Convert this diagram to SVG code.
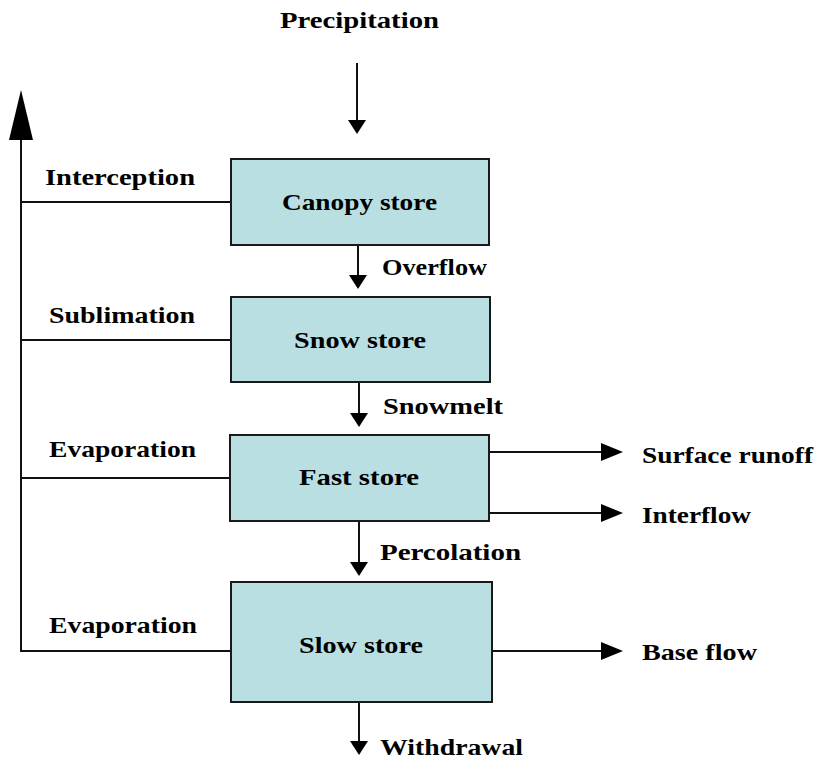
<svg xmlns="http://www.w3.org/2000/svg" width="821" height="760" viewBox="0 0 821 760">
<style>
  .box { fill: #b9dfe2; stroke: #1a1a1a; stroke-width: 2; }
  .ln { fill: none; stroke: #111; stroke-width: 2; }
  text { font-family: "Liberation Serif", "Times New Roman", serif; font-weight: bold; font-size: 24px; fill: #000; }
</style>
<defs>
  <marker id="ah" markerUnits="userSpaceOnUse" markerWidth="14" markerHeight="18" refX="0" refY="9" orient="auto">
    <path d="M0,0 L14,9 L0,18 z" fill="#000"/>
  </marker>
  <marker id="ahr" markerUnits="userSpaceOnUse" markerWidth="22" markerHeight="18" refX="0" refY="9" orient="auto">
    <path d="M0,0 L22,9 L0,18 z" fill="#000"/>
  </marker>
  <marker id="ahbig" markerUnits="userSpaceOnUse" markerWidth="50" markerHeight="24" refX="0" refY="12" orient="auto">
    <path d="M0,0 L50,12 L0,24 z" fill="#000"/>
  </marker>
</defs>
<rect width="821" height="760" fill="#fff"/>
<g id="connectors">
  <line class="ln" x1="357" y1="63" x2="357" y2="120" marker-end="url(#ah)"/>
  <line class="ln" x1="358" y1="245" x2="358" y2="275" marker-end="url(#ah)"/>
  <line class="ln" x1="359" y1="382" x2="359" y2="413" marker-end="url(#ah)"/>
  <line class="ln" x1="359" y1="521" x2="359" y2="562" marker-end="url(#ah)"/>
  <line class="ln" x1="359" y1="702" x2="359" y2="741" marker-end="url(#ah)"/>
  <line class="ln" x1="489" y1="452" x2="601" y2="452" marker-end="url(#ahr)"/>
  <line class="ln" x1="489" y1="513" x2="601" y2="513" marker-end="url(#ahr)"/>
  <line class="ln" x1="492" y1="651" x2="601" y2="651" marker-end="url(#ahr)"/>
  <line class="ln" x1="231" y1="202" x2="21" y2="202"/>
  <line class="ln" x1="231" y1="340" x2="21" y2="340"/>
  <line class="ln" x1="231" y1="478" x2="21" y2="478"/>
  <polyline class="ln" points="231,651 21,651 21,140" marker-end="url(#ahbig)"/>
</g>
<g id="canopy">
  <rect class="box" x="231" y="159" width="258" height="86"/>
  <text x="282" y="210" textLength="155" lengthAdjust="spacingAndGlyphs">Canopy store</text>
</g>
<g id="snow">
  <rect class="box" x="231" y="297" width="259" height="85"/>
  <text x="294" y="348" textLength="132" lengthAdjust="spacingAndGlyphs">Snow store</text>
</g>
<g id="fast">
  <rect class="box" x="230" y="435" width="259" height="86"/>
  <text x="299" y="485" textLength="120" lengthAdjust="spacingAndGlyphs">Fast store</text>
</g>
<g id="slow">
  <rect class="box" x="231" y="582" width="261" height="120"/>
  <text x="299" y="653" textLength="124" lengthAdjust="spacingAndGlyphs">Slow store</text>
</g>
<g id="labels">
  <text x="280" y="28" textLength="159" lengthAdjust="spacingAndGlyphs">Precipitation</text>
  <text x="45" y="185" textLength="150" lengthAdjust="spacingAndGlyphs">Interception</text>
  <text x="382" y="275" textLength="105" lengthAdjust="spacingAndGlyphs">Overflow</text>
  <text x="49" y="323" textLength="146" lengthAdjust="spacingAndGlyphs">Sublimation</text>
  <text x="383" y="414" textLength="120" lengthAdjust="spacingAndGlyphs">Snowmelt</text>
  <text x="49" y="457" textLength="147" lengthAdjust="spacingAndGlyphs">Evaporation</text>
  <text x="642" y="463" textLength="171" lengthAdjust="spacingAndGlyphs">Surface runoff</text>
  <text x="642" y="523" textLength="109" lengthAdjust="spacingAndGlyphs">Interflow</text>
  <text x="380" y="560" textLength="141" lengthAdjust="spacingAndGlyphs">Percolation</text>
  <text x="49" y="633" textLength="148" lengthAdjust="spacingAndGlyphs">Evaporation</text>
  <text x="642" y="660" textLength="115" lengthAdjust="spacingAndGlyphs">Base flow</text>
  <text x="380" y="755" textLength="143" lengthAdjust="spacingAndGlyphs">Withdrawal</text>
</g>
</svg>
